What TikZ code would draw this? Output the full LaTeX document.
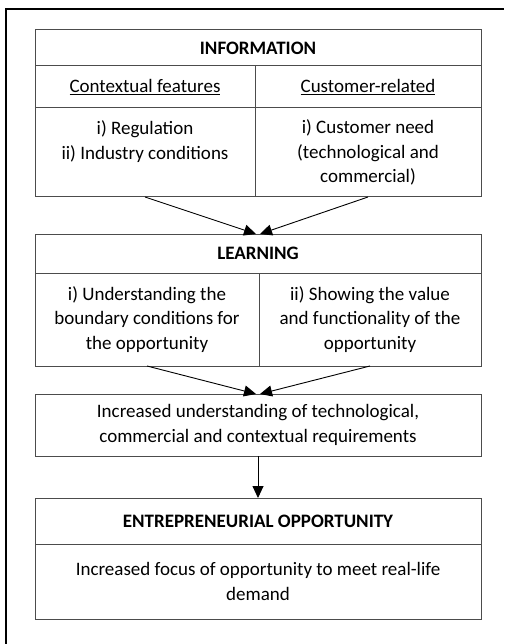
\documentclass[tikz,border=0pt]{standalone}
\usepackage{fontspec}
\setmainfont{Carlito}
\usetikzlibrary{positioning,arrows.meta}

\begin{document}
\begin{tikzpicture}[
  x=1pt, y=1pt,
  every node/.style={font=\fontsize{19}{24.5}\selectfont},
  cell/.style={draw=black!70, line width=1pt, inner sep=0pt, outer sep=0pt, align=center},
  wide/.style={cell, minimum width=446pt},
  title/.style={wide, font=\fontsize{19}{24.5}\selectfont\bfseries},
  flow/.style={-{Triangle[length=12pt,width=11pt]}, line width=0.9pt},
  frame/.style={line width=2pt}
]

% Page and outer frame (only its top and left edges are on the page)
\useasboundingbox (0,0) rectangle (504,-644);
\draw[frame] (6.3,-644) |- (504,-9);

% Information block
\node[title, minimum height=36pt, anchor=north west] (info) at (35,-30) {INFORMATION};
\node[cell, minimum width=220pt, minimum height=42pt, below right=0pt of info.south west] (ctx) {\underline{Contextual features}};
\node[cell, minimum width=226pt, minimum height=42pt, right=0pt of ctx] (cust) {\underline{Customer-related}};
\node[cell, minimum width=220pt, minimum height=89pt, below=0pt of ctx] (ctxitems) {i) Regulation\\ ii) Industry conditions\\ \mbox{}};
\node[cell, minimum width=226pt, minimum height=89pt, below=0pt of cust] (custitems) {i) Customer need\\ (technological and\\ commercial)};

% Learning block
\node[title, minimum height=39pt, below right=37pt and 0pt of ctxitems.south west] (learn) {LEARNING};
\node[cell, minimum width=224pt, minimum height=93pt, below right=0pt of learn.south west] (bound) {i) Understanding the\\ boundary conditions for\\ the opportunity};
\node[cell, minimum width=222pt, minimum height=93pt, right=0pt of bound] (value) {ii) Showing the value\\ and functionality of the\\ opportunity};

% What the learning gives
\node[wide, minimum height=62pt, below right=28pt and 0pt of bound.south west] (reqs) {Increased understanding of technological,\\ commercial and contextual requirements};

% Opportunity block
\node[title, minimum height=46pt, below=42pt of reqs] (opp) {ENTREPRENEURIAL OPPORTUNITY};
\node[wide, minimum height=75pt, below=0pt of opp] (focus) {Increased focus of opportunity to meet real-life\\ demand};

% Arrows between the blocks
\draw[flow] (ctxitems.south) -- ([xshift=-2pt]learn.north);
\draw[flow] (custitems.south) -- ([xshift=2pt]learn.north);
\draw[flow] (bound.south) -- ([xshift=-2pt]reqs.north);
\draw[flow] (value.south) -- ([xshift=2pt]reqs.north);
\draw[flow] (reqs) -- (opp);

\end{tikzpicture}
\end{document}
